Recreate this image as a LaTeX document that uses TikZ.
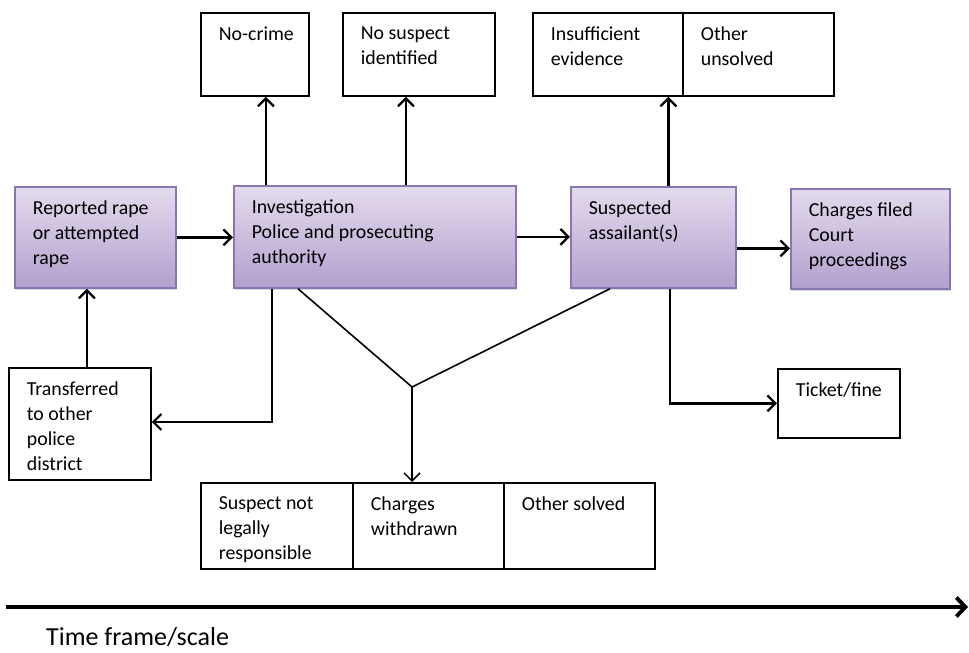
\documentclass[tikz,border=0pt]{standalone}
\usepackage{fontspec}
\setmainfont{Carlito}
\usetikzlibrary{arrows.meta,shadows}

\definecolor{lavTop}{RGB}{228,219,237}
\definecolor{lavBot}{RGB}{178,160,206}
\definecolor{lavLine}{RGB}{136,118,178}

\newlength\pxu \setlength\pxu{0.02cm}
% text block of a box: width, height (px), lines
\newcommand{\boxcell}[3]{\parbox[c][\dimexpr #2\pxu-0.56cm\relax][t]{\dimexpr #1\pxu-0.72cm\relax}{\raggedright #3}}

\tikzset{
  outcome/.style={draw, line width=1pt, anchor=north west, inner xsep=0.36cm, inner ysep=0.28cm,
    font=\fontsize{11.3}{14.2}\selectfont},
  stage/.style={outcome, draw=lavLine, top color=lavTop, bottom color=lavBot,
    drop shadow={opacity=0.3, shadow xshift=0.8pt, shadow yshift=-1.2pt}},
  flow/.style={line width=1.3pt, -{Straight Barb[length=1.6mm,width=3.2mm]}},
  merge/.style={line width=0.9pt},
}

\begin{document}
\begin{tikzpicture}[x=0.02cm, y=-0.02cm]
\useasboundingbox (0,0) rectangle (969,652);

% Main stages
\node[stage] (report) at (14,186) {\boxcell{161}{101}{Reported rape\\or attempted\\rape}};
\node[stage] (invest) at (233,185) {\boxcell{282}{102}{Investigation\\Police and prosecuting\\authority}};
\node[stage] (suspect) at (570,186) {\boxcell{165}{101}{Suspected\\assailant(s)}};
\node[stage] (charges) at (790,188) {\boxcell{159}{100}{Charges filed\\Court\\proceedings}};

% Outcomes above
\node[outcome] (nocrime) at (200,12) {\boxcell{108}{83}{\mbox{No-crime}}};
\node[outcome] (nosus) at (342,12) {\boxcell{152}{83}{No suspect\\identified}};
\node[outcome] (insuf) at (532,12) {\boxcell{150}{83}{Insufficient\\evidence}};
\node[outcome] (unsolved) at (682,12) {\boxcell{151}{83}{Other\\unsolved}};

% Outcomes below
\node[outcome] (transfer) at (8,367) {\boxcell{142}{112}{Transferred\\to other\\police\\district}};
\node[outcome] (ticket) at (777,368) {\boxcell{122}{69}{Ticket/fine}};
\node[outcome] (notresp) at (200,482) {\boxcell{152}{86}{Suspect not\\legally\\responsible}};
\node[outcome] (withdrawn) at (352,482) {\boxcell{151}{86}{Charges\\withdrawn}};
\node[outcome] (solved) at (503,482) {\boxcell{151}{86}{Other solved}};

% Main flow
\draw[flow] (report.east) -- (report.east -| invest.west);
\draw[flow] (invest.east) -- (invest.east -| suspect.west);
\coordinate (sc) at ([yshift=-0.22cm]suspect.east);
\draw[flow] (sc) -- (sc -| charges.west);

% Upwards
\coordinate (nc) at ([xshift=0.22cm]nocrime.south);
\draw[flow] (nc |- invest.north) -- (nc);
\coordinate (ns) at ([xshift=-0.26cm]nosus.south);
\draw[flow] (ns |- invest.north) -- (ns);
\coordinate (sa) at ([xshift=0.3cm]suspect.north);
\draw[flow] (sa) -- (sa |- insuf.south);
\coordinate (tr) at ([xshift=0.14cm]transfer.north);
\draw[flow] (tr) -- (tr |- report.south);

% Side branches
\coordinate (ib) at ([xshift=0.78cm]invest.south west);
\coordinate (tw) at (transfer.east |- 0,422);
\draw[flow] (ib) |- (tw);
\coordinate (sb) at ([xshift=0.33cm]suspect.south);
\draw[flow] (sb) |- (ticket.west);

% Merge into solved outcomes
\coordinate (vl) at ([xshift=1.3cm]invest.south west);
\coordinate (vr) at ([xshift=0.8cm]suspect.south west);
\coordinate (vtx) at (412,387);
\draw[merge] (vl) -- (vtx) -- (vr);
\draw[merge, -{Straight Barb[length=1.6mm,width=3.2mm]}] (vtx) -- (vtx |- withdrawn.north);

% Time axis
\coordinate (tstart) at (6,607);
\coordinate (tend) at (968,607);
\draw[line width=2.2pt, -{Straight Barb[length=1.8mm,width=3.8mm]}] (tstart) -- (tend);
\node[anchor=base west, font=\fontsize{14.8}{17}\selectfont] (timelbl) at (40,645) {Time frame/scale};
\end{tikzpicture}
\end{document}
